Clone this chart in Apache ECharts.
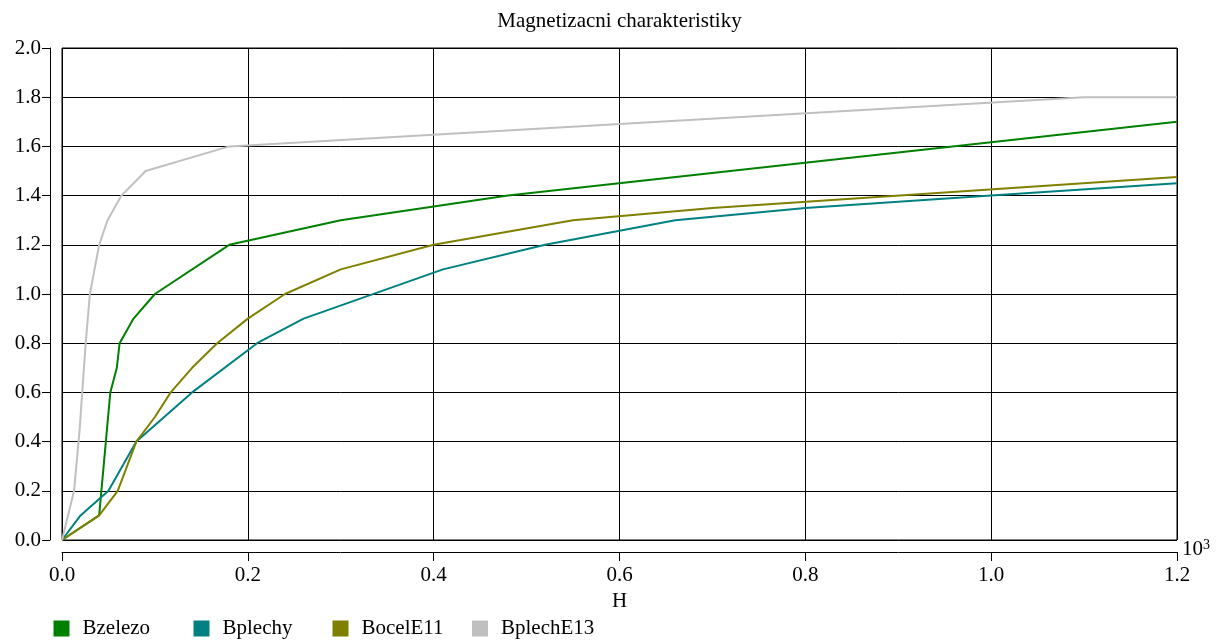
<!DOCTYPE html>
<html>
<head>
<meta charset="utf-8">
<script src="https://cdn.jsdelivr.net/npm/echarts@6/dist/echarts.min.js"></script>
<style>html,body{margin:0;padding:0;background:#fff}#c{width:1219px;height:643px}</style>
</head>
<body>
<div id="c"></div>
<script>
const titleText = 'Magnetizacni charakteristiky';
const xName = 'H';
const seriesNames = ['Bzelezo', 'Bplechy', 'BocelE11', 'BplechE13'];
const seriesColors = ['#008000', '#008080', '#808000', '#c0c0c0'];
const xTicks = [0, 0.2, 0.4, 0.6, 0.8, 1.0, 1.2];
const yTicks = [0, 0.2, 0.4, 0.6, 0.8, 1.0, 1.2, 1.4, 1.6, 1.8, 2.0];

const Bzelezo = [[0,0],[0.04,0.1],[0.052,0.6],[0.059,0.7],[0.062,0.8],[0.077,0.9],[0.1,1.0],[0.18,1.2],[0.3,1.3],[0.48,1.4],[1.2,1.7]];
const Bplechy = [[0,0],[0.02,0.1],[0.05,0.2],[0.08,0.4],[0.14,0.6],[0.21,0.8],[0.26,0.9],[0.41,1.1],[0.52,1.2],[0.66,1.3],[0.8,1.35],[1.0,1.4],[1.2,1.45]];
const BocelE11 = [[0,0],[0.04,0.1],[0.06,0.2],[0.08,0.4],[0.1,0.5],[0.117,0.6],[0.14,0.7],[0.167,0.8],[0.2,0.9],[0.24,1.0],[0.3,1.1],[0.4,1.2],[0.55,1.3],[0.7,1.35],[1.2,1.476]];
const BplechE13 = [[0,0],[0.013,0.2],[0.019,0.45],[0.0255,0.8],[0.03,1.0],[0.035,1.1],[0.04,1.2],[0.049,1.3],[0.064,1.4],[0.09,1.5],[0.18,1.6],[1.1,1.8],[1.2,1.8]];
const seriesData = [Bzelezo, Bplechy, BocelE11, BplechE13];

const font = 'Liberation Serif';
const fs = 21;
const legendLefts = [48.5, 188.5, 327.5, 467];
const xMin = xTicks[0], xMax = xTicks[xTicks.length - 1];
const yMin = yTicks[0], yMax = yTicks[yTicks.length - 1];
const fmt = v => v.toFixed(1);

const chart = echarts.init(document.getElementById('c'), null, {renderer: 'canvas'});
chart.setOption({
  backgroundColor: '#fff',
  animation: false,
  textStyle: {fontFamily: font},
  graphic: [
    {type: 'text', x: 619.5, y: 21, style: {text: titleText, font: fs + 'px "Liberation Serif"', fill: '#000', align: 'center', verticalAlign: 'middle'}},
    {type: 'text', x: 1182, y: 538, style: {text: '{a|10}{b|3}', rich: {a: {fontFamily: font, fontSize: fs, color: '#000', verticalAlign: 'bottom'}, b: {fontFamily: font, fontSize: 14, color: '#000', verticalAlign: 'bottom', padding: [0,0,8,0]}}, verticalAlign: 'top', align: 'left'}}
  ],
  legend: seriesNames.map((n, i) => ({
    left: legendLefts[i], top: 613, itemWidth: 16, itemHeight: 16, icon: 'rect',
    textStyle: {fontFamily: font, fontSize: fs, color: '#000', padding: [0,0,0,8]},
    data: [n]
  })),
  grid: [
    {left: 62, right: 42, top: 48, bottom: 103, show: true, borderColor: '#000', borderWidth: 1, containLabel: false},
    {left: 62, right: 42, top: 48, bottom: 91, show: false, containLabel: false},
    {left: 50, right: 42, top: 48, bottom: 103, show: false, containLabel: false}
  ],
  xAxis: [
    {gridIndex: 0, type: 'value', min: xMin, max: xMax, interval: 0.2,
     axisLine: {show: false}, axisTick: {show: false}, axisLabel: {show: false},
     splitLine: {show: true, lineStyle: {color: '#000', width: 1}}},
    {gridIndex: 1, type: 'value', min: xMin, max: xMax, interval: 0.2, position: 'bottom',
     name: xName, nameLocation: 'middle', nameGap: 33,
     nameTextStyle: {fontFamily: font, fontSize: fs, color: '#000'},
     axisLine: {show: true, onZero: false, lineStyle: {color: '#000', width: 1}},
     axisTick: {show: true, inside: false, length: 9, lineStyle: {color: '#000', width: 1}},
     axisLabel: {fontFamily: font, fontSize: fs, color: '#000', margin: 13, formatter: fmt},
     splitLine: {show: false}},
    {gridIndex: 2, type: 'value', min: xMin, max: xMax, show: false}
  ],
  yAxis: [
    {gridIndex: 0, type: 'value', min: yMin, max: yMax, interval: 0.2,
     axisLine: {show: false}, axisTick: {show: false}, axisLabel: {show: false},
     splitLine: {show: true, lineStyle: {color: '#000', width: 1}}},
    {gridIndex: 1, type: 'value', min: yMin, max: yMax, show: false},
    {gridIndex: 2, type: 'value', min: yMin, max: yMax, interval: 0.2, position: 'left',
     axisLine: {show: true, onZero: false, lineStyle: {color: '#000', width: 1}},
     axisTick: {show: true, inside: false, length: 8, lineStyle: {color: '#000', width: 1}},
     axisLabel: {fontFamily: font, fontSize: fs, color: '#000', margin: 9, formatter: fmt},
     splitLine: {show: false}}
  ],
  series: seriesNames.map((n, i) => ({
    name: n, type: 'line', xAxisIndex: 0, yAxisIndex: 0, data: seriesData[i], showSymbol: false, symbol: 'none',
    lineStyle: {color: seriesColors[i], width: 2}, itemStyle: {color: seriesColors[i]}
  }))
});
</script>
</body>
</html>
